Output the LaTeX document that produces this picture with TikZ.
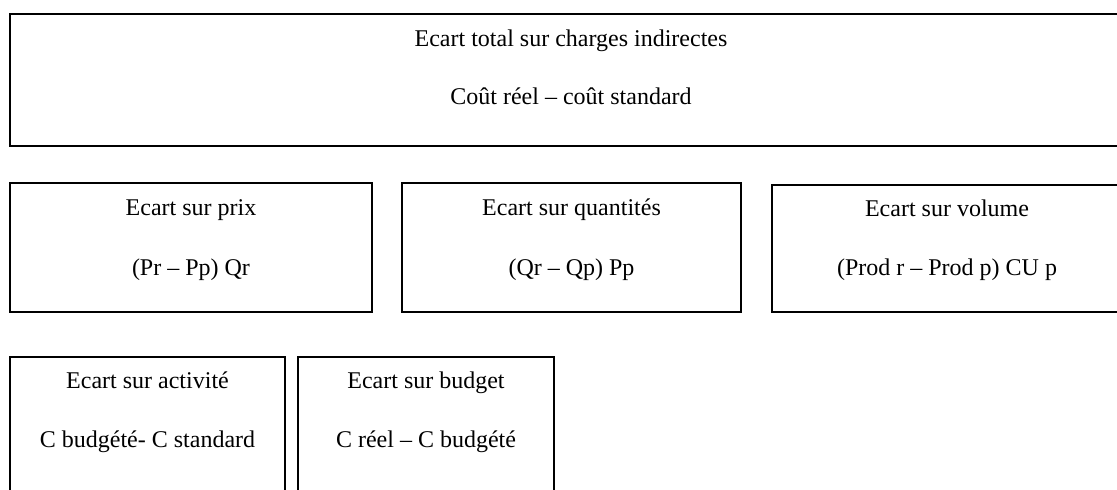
\documentclass[tikz,border=0pt]{standalone}
\usepackage{fontspec}
\setmainfont{Liberation Serif}
\begin{document}
\begin{tikzpicture}[x=0.5pt,y=-0.5pt,
  box/.style={draw=black, line width=0.85pt, inner sep=0pt, outer sep=0pt, rectangle},
  txt/.style={anchor=base, inner sep=0pt, font=\fontsize{12pt}{14pt}\selectfont}]
\useasboundingbox (0,0) rectangle (1117,490);
\begin{scope}
\clip (0,0) rectangle (1117,490);
% boxes
\node[box, minimum width=1115*0.5pt, minimum height=132*0.5pt] (top) at (567.5,80) {};
\node[box, minimum width=362*0.5pt, minimum height=129*0.5pt] (prix) at (191,247.5) {};
\node[box, minimum width=339*0.5pt, minimum height=129*0.5pt] (quant) at (571.5,247.5) {};
\node[box, minimum width=353*0.5pt, minimum height=127*0.5pt] (vol) at (948.5,248.5) {};
\node[box, minimum width=275*0.5pt, minimum height=163*0.5pt] (act) at (147.5,438.5) {};
\node[box, minimum width=256*0.5pt, minimum height=163*0.5pt] (bud) at (426,438.5) {};
\end{scope}
% texts
\node[txt] (topA) at (571,47) {Ecart total sur charges indirectes};
\node[txt] (topB) at (571,105) {Coût réel – coût standard};
\node[txt] (prixA) at (191,216) {Ecart sur prix};
\node[txt] (prixB) at (191,276) {(Pr – Pp) Qr};
\node[txt] (quantA) at (571.5,216) {Ecart sur quantités};
\node[txt] (quantB) at (571.5,276) {(Qr – Qp) Pp};
\node[txt] (volA) at (947,217) {Ecart sur volume};
\node[txt] (volB) at (947,276) {(Prod r – Prod p) CU p};
\node[txt] (actA) at (147.5,389) {Ecart sur activité};
\node[txt] (actB) at (147.5,448) {C budgété- C standard};
\node[txt] (budA) at (426,389) {Ecart sur budget};
\node[txt] (budB) at (426,448) {C réel – C budgété};
\end{tikzpicture}
\end{document}
